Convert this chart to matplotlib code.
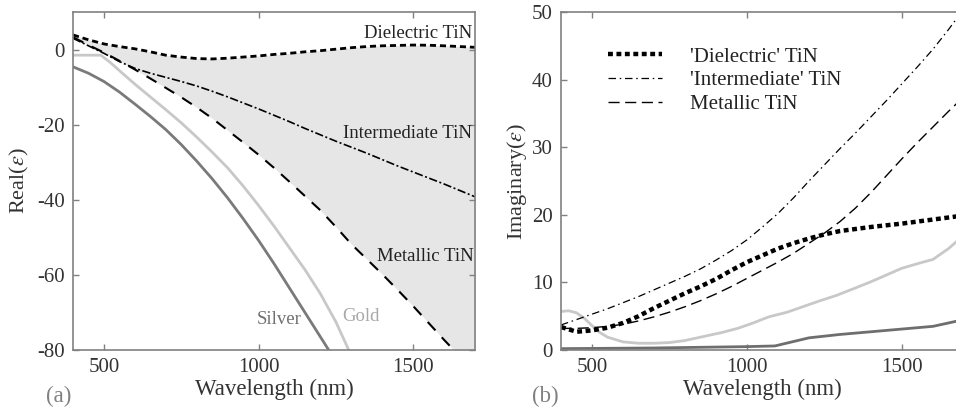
import numpy as np
import matplotlib
matplotlib.use("Agg")
import matplotlib.pyplot as plt

plt.rcParams['font.family'] = ['Liberation Serif', 'DejaVu Serif']
plt.rcParams['mathtext.fontset'] = 'stix'
plt.rcParams['axes.unicode_minus'] = False

# ---- (a) real part of permittivity ----
wl_tin = [400, 450, 500, 550, 600, 650, 700, 750, 800, 850, 900, 950, 1000, 1050,
          1100, 1150, 1200, 1250, 1300, 1350, 1400, 1450, 1500, 1550, 1600, 1650, 1700]
re_diel = [3.9, 2.6, 1.5, 0.8, 0.2, -0.6, -1.5, -2.0, -2.4, -2.5, -2.3, -2.0, -1.7, -1.3,
           -1.0, -0.6, -0.3, 0.1, 0.5, 0.8, 1.0, 1.1, 1.2, 1.15, 1.0, 0.8, 0.6]
re_inter = [3.0, 1.0, -1.0, -3.2, -5.0, -6.3, -7.4, -8.5, -9.7, -11.1, -12.6, -14.2, -15.8, -17.5,
            -19.2, -21.0, -22.7, -24.4, -26.0, -27.6, -29.3, -31.0, -32.6, -34.2, -35.8, -37.5, -39.2]
re_metal = [3.3, 1.2, -0.8, -3.0, -5.3, -7.7, -10.2, -12.7, -15.4, -18.3, -21.5, -24.7, -28.0, -31.5,
            -35.2, -39.0, -42.8, -47.2, -51.8, -55.8, -59.8, -64.0, -68.3, -72.8, -77.3, -81.6, -86.0]

wl_ag_re = [400, 450, 500, 550, 600, 650, 700, 750, 800, 850, 900, 950, 1000, 1050, 1100, 1150, 1200, 1250]
re_ag = [-4.6, -6.3, -8.5, -11.3, -14.5, -17.8, -21.3, -25.3, -29.7, -34.4, -39.5, -45.0, -50.8,
         -57.0, -63.5, -70.0, -76.5, -83.0]
wl_au_re = [400, 490, 520, 550, 600, 650, 700, 750, 800, 850, 900, 950, 1000, 1050, 1100,
            1150, 1200, 1250, 1300, 1350]
re_au = [-1.5, -1.5, -3.4, -5.6, -9.2, -12.6, -16.0, -19.5, -23.3, -27.3, -31.5, -36.3, -41.5,
         -47.0, -52.8, -58.6, -65.0, -72.5, -81.5, -90.0]

# ---- (b) imaginary part ----
wl_tin_im = wl_tin
im_diel = [3.4, 2.7, 2.9, 3.3, 4.0, 5.0, 6.2, 7.3, 8.4, 9.4, 10.5, 11.8, 13.0, 14.0,
           15.0, 15.8, 16.5, 17.1, 17.6, 17.9, 18.2, 18.45, 18.7, 19.0, 19.3, 19.6, 19.9]
im_inter = [3.7, 4.5, 5.3, 6.1, 7.0, 7.9, 8.9, 9.9, 10.9, 12.0, 13.3, 14.7, 16.3, 18.2,
            20.2, 22.5, 25.0, 27.4, 29.8, 32.1, 34.5, 36.9, 39.4, 41.9, 44.5, 47.4, 50.5]
im_metal = [3.2, 3.2, 3.3, 3.5, 3.8, 4.3, 4.9, 5.6, 6.4, 7.3, 8.3, 9.4, 10.6, 11.8,
            13.0, 14.3, 15.8, 17.3, 19.0, 21.0, 23.3, 25.8, 28.3, 30.7, 33.0, 35.3, 37.5]

wl_au_im = [400, 425, 450, 475, 500, 525, 550, 600, 650, 700, 750, 800, 860, 920, 970, 1020,
            1070, 1130, 1180, 1230, 1290, 1340, 1400, 1450, 1500, 1560, 1600, 1650, 1700]
im_au = [5.7, 5.8, 5.5, 4.7, 3.6, 2.6, 1.9, 1.2, 1.0, 1.0, 1.1, 1.4, 2.0, 2.6, 3.2, 4.0,
         4.9, 5.6, 6.4, 7.2, 8.1, 9.0, 10.1, 11.1, 12.1, 12.9, 13.4, 15.0, 17.0]
wl_ag_im = [400, 700, 1000, 1090, 1200, 1300, 1400, 1500, 1600, 1700]
im_ag = [0.2, 0.3, 0.5, 0.6, 1.8, 2.3, 2.7, 3.1, 3.5, 4.5]

spine_col = '#808080'
txt_col = '#333333'
silver_col = '#7a7a7a'
gold_col = '#c8c8c8'

fig = plt.figure(figsize=(9.56, 4.13), dpi=100)
ax1 = fig.add_axes([73/956, 63/413, 402/956, 338/413])
ax2 = fig.add_axes([561/956, 63/413, 403/956, 338/413])

# panel a
d = np.array(re_diel)
m = np.array(re_metal)
ax1.fill_between(wl_tin, m, d, where=d >= m, interpolate=True,
                 color='#e6e6e6', lw=0, zorder=0)
ax1.plot(wl_ag_re, re_ag, color=silver_col, lw=2.0)
ax1.plot(wl_au_re, re_au, color=gold_col, lw=2.0)
ax1.plot(wl_tin, re_diel, color='k', lw=2.0, dashes=(2.2, 1.4))
ax1.plot(wl_tin, re_inter, color='k', lw=1.2, dashes=(5, 1.5, 1.2, 1.5))
ax1.plot(wl_tin, re_metal, color='k', lw=1.5, dashes=(5.5, 4.5))

lab_fs = 13.5
ax1.text(1690, 4.4, 'Dielectric TiN', ha='right', va='center', fontsize=lab_fs, color='#222222')
ax1.text(1690, -22.3, 'Intermediate TiN', ha='right', va='center', fontsize=lab_fs, color='#222222')
ax1.text(1695, -55.2, 'Metallic TiN', ha='right', va='center', fontsize=lab_fs, color='#222222')
ax1.text(1067, -72, 'Silver', ha='center', va='center', fontsize=lab_fs, color='#707070')
ax1.text(1331, -71, 'Gold', ha='center', va='center', fontsize=lab_fs, color='#a8a8a8')

ax1.set_xlim(400, 1700)
ax1.set_ylim(-80, 10)
ax1.set_xticks([500, 1000, 1500])
ax1.set_yticks([-80, -60, -40, -20, 0])
ax1.set_ylabel(r'Real($\epsilon$)', fontsize=16, color=txt_col, labelpad=4)

# panel b
ax2.plot(wl_ag_im, im_ag, color='#6e6e6e', lw=2.0)
ax2.plot(wl_au_im, im_au, color=gold_col, lw=2.0)
l1, = ax2.plot(wl_tin_im, im_diel, color='k', lw=3.2, dashes=(1.1, 0.8),
               label="'Dielectric' TiN")
l2, = ax2.plot(wl_tin_im, im_inter, color='k', lw=0.9, dashes=(6, 3, 1.2, 3),
               label="'Intermediate' TiN")
l3, = ax2.plot(wl_tin_im, im_metal, color='k', lw=1.0, dashes=(8, 4),
               label='Metallic TiN')
ax2.legend(handles=[l1, l2, l3], loc='upper left', bbox_to_anchor=(0.07, 0.952),
           frameon=False, fontsize=15, handlelength=2.6, handletextpad=1.35,
           labelspacing=0.2, labelcolor='#222222')

ax2.set_xlim(400, 1700)
ax2.set_ylim(0, 50)
ax2.set_xticks([500, 1000, 1500])
ax2.set_yticks([0, 10, 20, 30, 40, 50])
ax2.set_ylabel(r'Imaginary($\epsilon$)', fontsize=16, color=txt_col, labelpad=2)

for ax in (ax1, ax2):
    for sp in ax.spines.values():
        sp.set_color(spine_col)
        sp.set_linewidth(1.2)
    ax.tick_params(direction='in', length=4, width=1, colors=spine_col,
                   labelcolor=txt_col, labelsize=15, top=True, right=True, pad=6)
    ax.set_xlabel('Wavelength (nm)', fontsize=16.5, color=txt_col, labelpad=1)

fig.text(59/956, 1 - 396/413, '(a)', ha='center', va='center', fontsize=16.5, color='#808080')
fig.text(545/956, 1 - 396/413, '(b)', ha='center', va='center', fontsize=16.5, color='#808080')

fig.savefig('out.png', dpi=100)
